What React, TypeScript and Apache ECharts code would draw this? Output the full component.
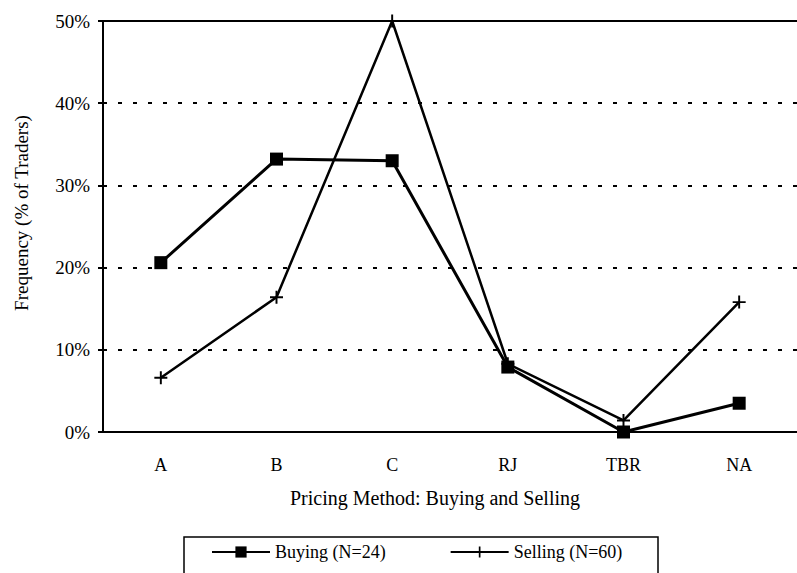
import React, { useEffect, useRef } from "react";
import * as echarts from "echarts";

const categories = ["A", "B", "C", "RJ", "TBR", "NA"];
const buying = [20.6, 33.2, 33.0, 7.9, 0, 3.5];
const selling = [6.6, 16.4, 50.0, 8.3, 1.4, 15.8];
const yTicks = [0, 10, 20, 30, 40, 50];
const yTitle = "Frequency (% of Traders)";
const xTitle = "Pricing Method: Buying and Selling";

const FONT = "'Liberation Serif', 'Times New Roman', serif";
const PLUS = "path://M5.1,0H6.9V5.1H12V6.9H6.9V12H5.1V6.9H0V5.1H5.1Z";

export default function App() {
  const ref = useRef<HTMLDivElement>(null);
  useEffect(() => {
    if (!ref.current) return;
    const chart = echarts.init(ref.current, undefined, { renderer: "svg" });
    chart.setOption({
      animation: false,
      backgroundColor: "#fff",
      grid: { left: 103, top: 21, width: 703, height: 411, containLabel: false },
      xAxis: [
        {
          type: "category",
          data: categories,
          boundaryGap: true,
          axisLine: { show: true, lineStyle: { color: "#000", width: 2 } },
          axisTick: { show: false },
          axisLabel: { color: "#000", fontFamily: FONT, fontSize: 18, margin: 24 },
          name: xTitle,
          nameLocation: "middle",
          nameGap: 56,
          nameTextStyle: { color: "#000", fontFamily: FONT, fontSize: 20, padding: [0, 30, 0, 0] },
        },
        {
          type: "category",
          position: "top",
          data: categories,
          axisLine: { show: true, lineStyle: { color: "#000", width: 2 } },
          axisTick: { show: false },
          axisLabel: { show: false },
        },
      ],
      yAxis: {
        type: "value",
        min: yTicks[0],
        max: yTicks[yTicks.length - 1],
        interval: 10,
        axisLine: { show: true, lineStyle: { color: "#000", width: 2 } },
        axisTick: { show: true, length: 5, lineStyle: { color: "#000", width: 2 } },
        axisLabel: {
          color: "#000",
          fontFamily: FONT,
          fontSize: 19,
          margin: 13,
          formatter: "{value}%",
        },
        splitLine: { show: true, lineStyle: { color: "#000", width: 2, type: [4, 11] } },
      },
      legend: {
        left: 206,
        top: 538,
        itemWidth: 58,
        itemHeight: 14,
        itemGap: 64,
        textStyle: { color: "#000", fontFamily: FONT, fontSize: 18 },
        data: ["Buying (N=24)", "Selling (N=60)"],
      },
      graphic: [
        {
          type: "text",
          x: 21,
          y: 213,
          rotation: Math.PI / 2,
          style: {
            text: yTitle,
            fill: "#000",
            font: `19px ${FONT}`,
            textAlign: "center",
            textVerticalAlign: "middle",
          },
        },
        {
          type: "rect",
          shape: { x: 184, y: 537, width: 474, height: 60 },
          style: { fill: "none", stroke: "#000", lineWidth: 1.5 },
          z: 10,
        },
      ],
      series: [
        {
          name: "Buying (N=24)",
          type: "line",
          data: buying,
          symbol: "rect",
          symbolSize: 13,
          clip: false,
          lineStyle: { color: "#000", width: 3 },
          itemStyle: { color: "#000" },
          z: 3,
        },
        {
          name: "Selling (N=60)",
          type: "line",
          data: selling,
          symbol: PLUS,
          symbolSize: 13,
          clip: false,
          lineStyle: { color: "#000", width: 2.5 },
          itemStyle: { color: "#000" },
          z: 4,
        },
      ],
    });
    return () => chart.dispose();
  }, []);
  return (
    <div
      ref={ref}
      style={{ position: "fixed", left: 0, top: 0, width: 797, height: 573, background: "#fff" }}
    />
  );
}
